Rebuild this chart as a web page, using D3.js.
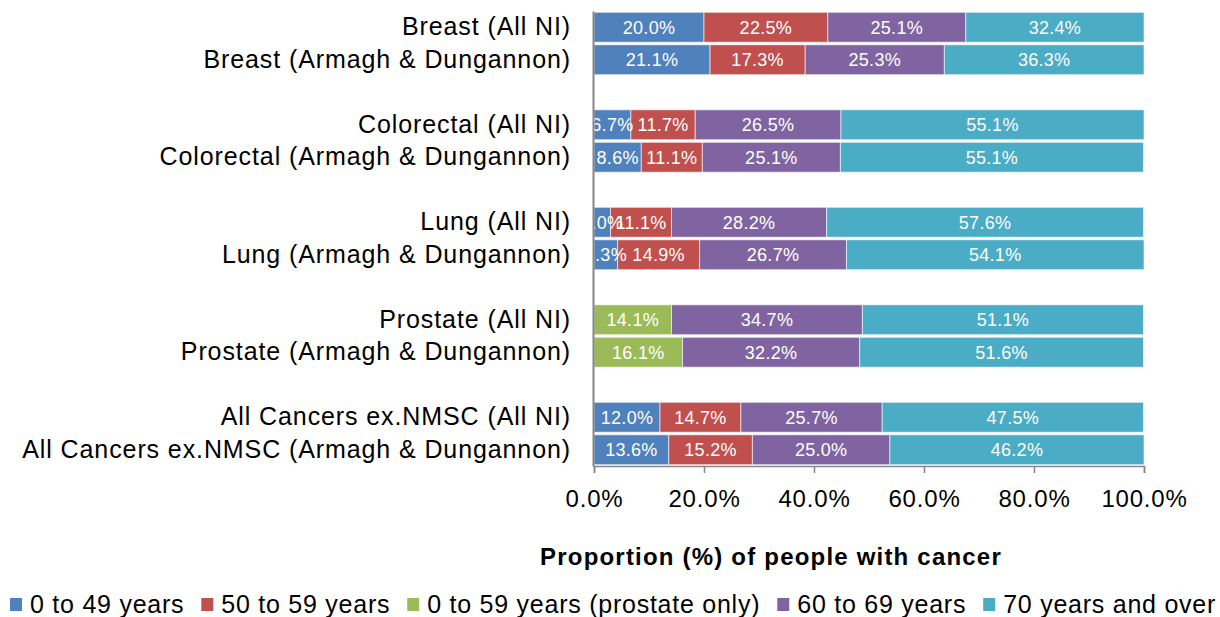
<!DOCTYPE html>
<html>
<head>
<meta charset="utf-8">
<script src="https://cdn.jsdelivr.net/npm/d3@7"></script>
<style>
  body { margin: 0; background: #fff; }
  svg { font-family: "Liberation Sans", Arial, sans-serif; }
</style>
</head>
<body>
<div class="canvas"></div>
<script>
// data
const categories = [
  'Breast (All NI)', 'Breast (Armagh & Dungannon)',
  'Colorectal (All NI)', 'Colorectal (Armagh & Dungannon)',
  'Lung (All NI)', 'Lung (Armagh & Dungannon)',
  'Prostate (All NI)', 'Prostate (Armagh & Dungannon)',
  'All Cancers ex.NMSC (All NI)', 'All Cancers ex.NMSC (Armagh & Dungannon)'
];
const age0to49 = [20.0, 21.1, 6.7, 8.6, 3.0, 4.3, 0, 0, 12.0, 13.6];
const age50to59 = [22.5, 17.3, 11.7, 11.1, 11.1, 14.9, 0, 0, 14.7, 15.2];
const age0to59Prostate = [0, 0, 0, 0, 0, 0, 14.1, 16.1, 0, 0];
const age60to69 = [25.1, 25.3, 26.5, 25.1, 28.2, 26.7, 34.7, 32.2, 25.7, 25.0];
const age70plus = [32.4, 36.3, 55.1, 55.1, 57.6, 54.1, 51.1, 51.6, 47.5, 46.2];

const seriesNames = ['0 to 49 years', '50 to 59 years', '0 to 59 years (prostate only)', '60 to 69 years', '70 years and over'];
const seriesColors = ['#4F81BD', '#C0504D', '#9BBB59', '#8064A2', '#4BACC6'];
const xTicks = [0, 20, 40, 60, 80, 100];

const keys = ['a', 'b', 'c', 'd', 'e'];
const table = categories.map((name, i) => ({
  name,
  a: age0to49[i], b: age50to59[i], c: age0to59Prostate[i], d: age60to69[i], e: age70plus[i]
}));

// band slots, with a blank slot between each pair
const slots = [];
categories.forEach((c, i) => {
  slots.push(c);
  if (i % 2 === 1 && i < categories.length - 1) slots.push('gap' + i);
});

const dims = { width: 1220, height: 617 };
const plot = { left: 594, right: 1144, top: 11, bottom: 466 };

const svg = d3.select('.canvas')
  .append('svg')
  .attr('width', dims.width)
  .attr('height', dims.height);

const x = d3.scaleLinear().domain([0, 100]).range([plot.left, plot.right]);
const y = d3.scaleBand().domain(slots).range([plot.top, plot.bottom])
  .paddingInner(0.08).paddingOuter(0.04);

const color = d3.scaleOrdinal().domain(keys).range(seriesColors);

const stacked = d3.stack().keys(keys)(table);

svg.append('clipPath').attr('id', 'plotclip')
  .append('rect')
  .attr('x', plot.left).attr('y', 0)
  .attr('width', plot.right - plot.left + 20).attr('height', plot.bottom + 5);

const layers = svg.append('g').selectAll('g')
  .data(stacked)
  .enter().append('g')
  .attr('fill', d => color(d.key));

layers.selectAll('rect')
  .data(d => d.filter(s => s[1] - s[0] > 0))
  .enter().append('rect')
  .attr('x', d => x(d[0]))
  .attr('y', d => y(d.data.name))
  .attr('width', d => x(d[1]) - x(d[0]))
  .attr('height', y.bandwidth())
  .attr('stroke', '#fff')
  .attr('stroke-opacity', 0.6)
  .attr('stroke-width', 1);

// segment labels
const labels = svg.append('g').attr('clip-path', 'url(#plotclip)');
stacked.forEach(layer => {
  labels.selectAll(null)
    .data(layer.filter(s => s[1] - s[0] > 0))
    .enter().append('text')
    .attr('x', d => (x(d[0]) + x(d[1])) / 2)
    .attr('y', d => y(d.data.name) + y.bandwidth() / 2)
    .attr('dy', '0.36em')
    .attr('text-anchor', 'middle')
    .attr('fill', '#fff')
    .style('font-size', '18px')
    .style('letter-spacing', '0.3px')
    .text(d => (d[1] - d[0]).toFixed(1) + '%');
});

// axes
const xAxis = d3.axisBottom(x)
  .tickValues(xTicks)
  .tickSize(7)
  .tickPadding(17)
  .tickFormat(d => d.toFixed(1) + '%');

const gx = svg.append('g')
  .attr('transform', `translate(0, ${plot.bottom})`)
  .call(xAxis);
gx.select('.domain').attr('stroke', '#868686').attr('stroke-width', 1.5);
gx.selectAll('.tick line').attr('stroke', '#868686').attr('stroke-width', 1.5);
gx.selectAll('text')
  .attr('fill', '#000')
  .style('font-size', '24px')
  .style('letter-spacing', '0.8px')
  .style('font-family', '"Liberation Sans", Arial, sans-serif');

const yAxis = d3.axisLeft(y)
  .tickValues(categories)
  .tickSize(0)
  .tickPadding(22);

const gy = svg.append('g')
  .attr('transform', `translate(${plot.left - 1}, 0)`)
  .call(yAxis);
gy.select('.domain').attr('stroke', '#868686').attr('stroke-width', 2);
gy.selectAll('text')
  .attr('fill', '#000')
  .style('font-size', '25px')
  .style('letter-spacing', '0.9px')
  .style('font-family', '"Liberation Sans", Arial, sans-serif');

// axis title
svg.append('text')
  .attr('x', 771)
  .attr('y', 565)
  .attr('text-anchor', 'middle')
  .style('font-size', '24px')
  .style('font-weight', 'bold')
  .style('letter-spacing', '1.2px')
  .text('Proportion (%) of people with cancer');

// legend
const legend = svg.append('g');
let lx = 10;
seriesNames.forEach((name, i) => {
  legend.append('rect')
    .attr('x', lx).attr('y', 598)
    .attr('width', 12).attr('height', 13)
    .attr('fill', seriesColors[i]);
  const t = legend.append('text')
    .attr('x', lx + 20)
    .attr('y', 613)
    .style('font-size', '25px')
    .style('letter-spacing', '0.75px')
    .text(name);
  lx += 20 + t.node().getComputedTextLength() + 17;
});
</script>
</body>
</html>
